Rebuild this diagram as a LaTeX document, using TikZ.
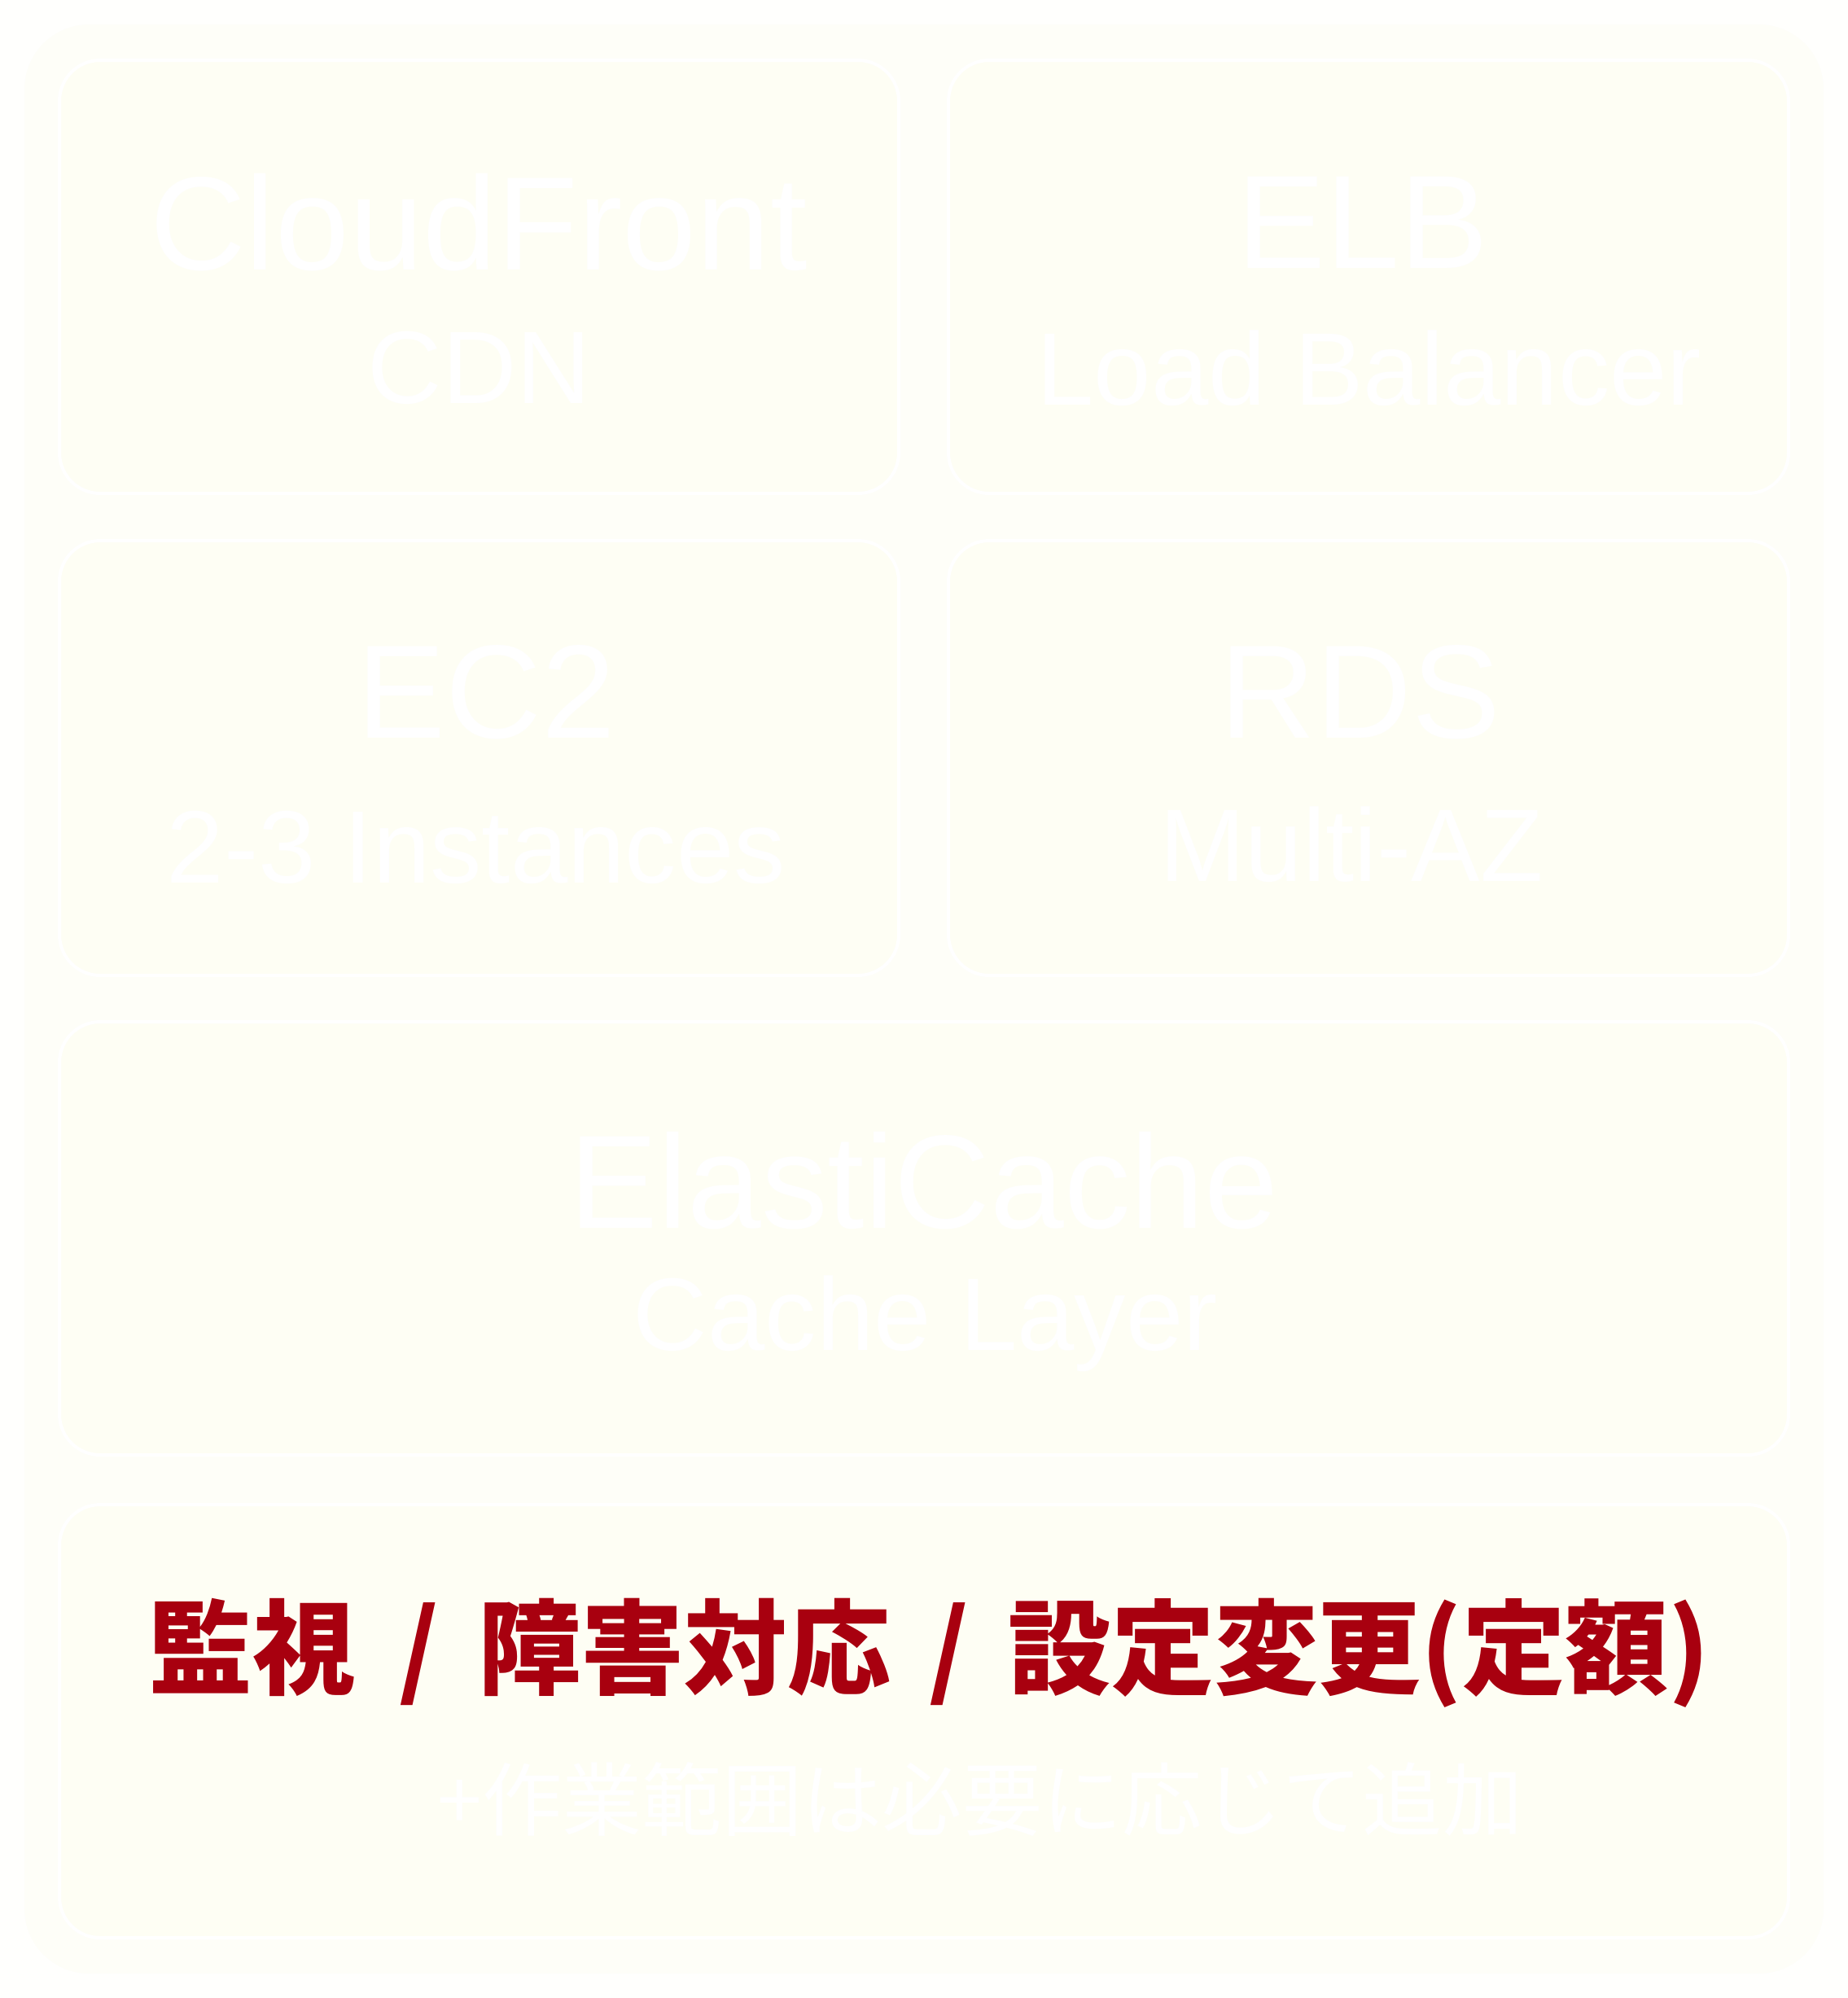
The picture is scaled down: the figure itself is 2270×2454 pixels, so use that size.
\documentclass[tikz,border=0pt]{standalone}
\usepackage{fontspec}
\setmainfont{Liberation Sans}
\newfontfamily\jpfont{Noto Sans CJK JP}
\definecolor{pagebg}{HTML}{FFFFFD}
\definecolor{glowbg}{HTML}{FEFEF8}
\definecolor{cardbg}{HTML}{FEFEF4}
\definecolor{accent}{HTML}{A8000F}
\tikzset{
  card/.style={draw=white, line width=1.2pt, fill=cardbg, rounded corners=15pt, inner sep=0pt},
  title/.style={text=white, font=\fontsize{49}{54}\selectfont, inner sep=0pt, anchor=center},
  subtitle/.style={text=white, font=\fontsize{38}{42}\selectfont, inner sep=0pt, anchor=center},
  redline/.style={text=accent, font=\jpfont\bfseries\fontsize{38}{40}\selectfont, inner sep=0pt, anchor=center},
  noteline/.style={text=white, font=\jpfont\fontsize{29.5}{33}\selectfont, inner sep=0pt, anchor=center}
}
\begin{document}
\begin{tikzpicture}[x=0.3pt,y=-0.3pt]
\useasboundingbox (0,0) rectangle (2270,2454);
\fill[pagebg] (0,0) rectangle (2270,2454);
\fill[glowbg, rounded corners=24pt] (30,30) rectangle (2240,2424);
% cards
\node[card, minimum width=309.3pt, minimum height=159.6pt] (cfcard) at (588.5,340) {};
\node[card, minimum width=309.6pt, minimum height=159.6pt] (elbcard) at (1681,340) {};
\node[card, minimum width=309.3pt, minimum height=160.2pt] (ec2card) at (588.5,931) {};
\node[card, minimum width=309.6pt, minimum height=160.2pt] (rdscard) at (1681,931) {};
\node[card, minimum width=637.2pt, minimum height=159.6pt] (eccard) at (1135,1521) {};
\node[card, minimum width=637.2pt, minimum height=159.6pt] (opscard) at (1135,2114) {};
% texts
\node[title] (cft) at (588,273) {CloudFront};
\node[subtitle] (cfs) at (589,452) {CDN};
\node[title] (elbt) at (1674,273) {ELB};
\node[subtitle] (elbs) at (1682,452) {Load Balancer};
\node[title] (ec2t) at (597,850) {EC2};
\node[subtitle] (ec2s) at (585,1041) {2-3 Instances};
\node[title] (rdst) at (1671,850) {RDS};
\node[subtitle] (rdss) at (1660,1037) {Multi-AZ};
\node[title] (ect) at (1135,1450) {ElastiCache};
\node[subtitle] (ecs) at (1137,1626) {Cache Layer};
\node[redline] (ops) at (1142,2030) {監視\hspace{0.42em}/\hspace{0.38em}障害対応\hspace{0.38em}/\hspace{0.38em}設定変更(定額)};
\node[noteline] (note) at (1204,2210) {+作業範囲は必要に応じて追加};
\end{tikzpicture}
\end{document}
